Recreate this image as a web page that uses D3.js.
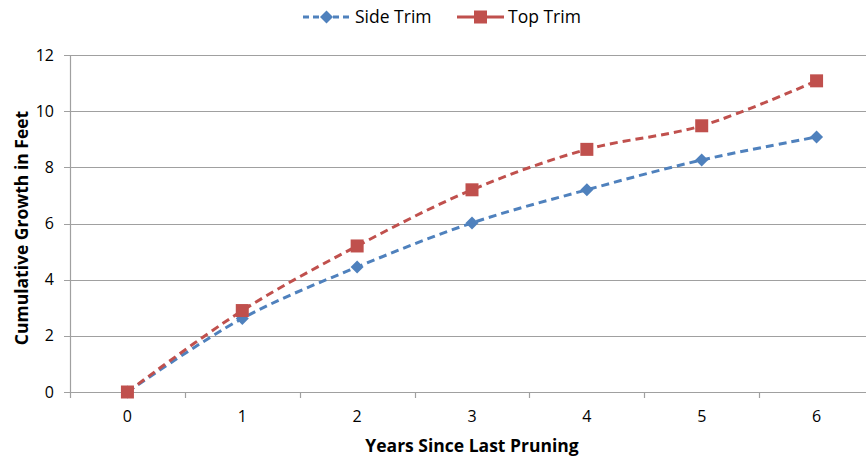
<!DOCTYPE html>
<html>
<head>
    <meta charset="utf-8">
    <title>Cumulative Growth Since Last Pruning</title>
    <style>
        body {
            margin: 0;
            background: white;
            font-family: "Open Sans", "Liberation Sans", sans-serif;
        }
        svg text { fill: #000; }
    </style>
</head>
<body>
    <div id="chart"></div>

    <script src="https://d3js.org/d3.v7.min.js"></script>
    <script>
    // Chart data
    const years = [0, 1, 2, 3, 4, 5, 6];
    const sideTrim = [0, 2.62, 4.45, 6.02, 7.2, 8.26, 9.08];
    const topTrim = [0, 2.9, 5.2, 7.2, 8.64, 9.48, 11.08];
    const yTicks = [0, 2, 4, 6, 8, 10, 12];

    const seriesList = [
        {name: "Side Trim", values: sideTrim, color: "#4F81BD", marker: "diamond"},
        {name: "Top Trim", values: topTrim, color: "#C0504D", marker: "square"}
    ];

    const width = 866, height = 459;
    // plot area (right edge runs past the visible window like the original)
    const plot = {left: 70, top: 55, right: 874, bottom: 392};

    const svg = d3.select("#chart").append("svg")
        .attr("width", width)
        .attr("height", height);

    // Category axis: values sit in the middle of each band
    const x = d3.scaleBand()
        .domain(years)
        .range([plot.left, plot.right]);

    const y = d3.scaleLinear()
        .domain([0, 12])
        .range([plot.bottom, plot.top]);

    // Horizontal gridlines
    svg.append("g")
        .selectAll("line")
        .data(yTicks)
        .join("line")
        .attr("x1", plot.left - 6)
        .attr("x2", plot.right)
        .attr("y1", d => Math.round(y(d)) + 0.5)
        .attr("y2", d => Math.round(y(d)) + 0.5)
        .attr("stroke", "#a0a0a0")
        .attr("stroke-width", 1.2);

    // Y axis line
    svg.append("line")
        .attr("x1", plot.left + 0.5).attr("x2", plot.left + 0.5)
        .attr("y1", plot.top).attr("y2", plot.bottom)
        .attr("stroke", "#a0a0a0")
        .attr("stroke-width", 1.2);

    // Y tick labels
    svg.append("g")
        .selectAll("text")
        .data(yTicks)
        .join("text")
        .attr("x", 54)
        .attr("y", d => y(d))
        .attr("dy", "0.35em")
        .attr("text-anchor", "end")
        .style("font-size", "16px")
        .text(d => d);

    // X tick marks between categories
    const bandEdges = years.map(d => x(d)).concat([plot.right]);
    svg.append("g")
        .selectAll("line")
        .data(bandEdges)
        .join("line")
        .attr("x1", d => Math.round(d) + 0.5)
        .attr("x2", d => Math.round(d) + 0.5)
        .attr("y1", plot.bottom)
        .attr("y2", plot.bottom + 6)
        .attr("stroke", "#a0a0a0")
        .attr("stroke-width", 1.2);

    // X tick labels
    svg.append("g")
        .selectAll("text")
        .data(years)
        .join("text")
        .attr("x", d => x(d) + x.bandwidth() / 2)
        .attr("y", 422)
        .attr("text-anchor", "middle")
        .style("font-size", "16px")
        .text(d => d);

    // Axis titles
    svg.append("text")
        .attr("x", 472)
        .attr("y", 452)
        .attr("text-anchor", "middle")
        .style("font-size", "17.5px")
        .style("font-weight", "bold")
        .text("Years Since Last Pruning");

    svg.append("text")
        .attr("transform", "translate(28,228) rotate(-90)")
        .attr("text-anchor", "middle")
        .style("font-size", "17.5px")
        .style("font-weight", "bold")
        .text("Cumulative Growth in Feet");

    // Smoothed dashed lines
    const line = d3.line()
        .x((d, i) => x(years[i]) + x.bandwidth() / 2)
        .y(d => y(d))
        .curve(d3.curveCatmullRom.alpha(0.5));

    const diamond = s => `M0,${-s}L${s},0L0,${s}L${-s},0Z`;

    function drawMarker(g, type, color) {
        if (type === "square") {
            g.append("rect")
                .attr("x", -6.5).attr("y", -6.5)
                .attr("width", 13).attr("height", 13)
                .attr("fill", color);
        } else {
            g.append("path")
                .attr("d", diamond(6.5))
                .attr("fill", color);
        }
    }

    seriesList.forEach(s => {
        svg.append("path")
            .datum(s.values)
            .attr("d", line)
            .attr("fill", "none")
            .attr("stroke", s.color)
            .attr("stroke-width", 3)
            .attr("stroke-dasharray", "8 5");
    });

    seriesList.forEach(s => {
        s.values.forEach((v, i) => {
            const g = svg.append("g")
                .attr("transform", `translate(${x(years[i]) + x.bandwidth() / 2},${y(v)})`);
            drawMarker(g, s.marker, s.color);
        });
    });

    // Legend
    const legendPos = [
        {lx: 303, tx: 355},
        {lx: 457, tx: 508}
    ];
    seriesList.forEach((s, i) => {
        const p = legendPos[i];
        const g = svg.append("g");
        g.append("line")
            .attr("x1", p.lx).attr("x2", p.lx + 47)
            .attr("y1", 17).attr("y2", 17)
            .attr("stroke", s.color)
            .attr("stroke-width", 3)
            .attr("stroke-dasharray", i === 0 ? "6 4" : null);
        const m = g.append("g").attr("transform", `translate(${p.lx + 23.5},17)`);
        drawMarker(m, s.marker, s.color);
        g.append("text")
            .attr("x", p.tx)
            .attr("y", 17)
            .attr("dy", "0.35em")
            .style("font-size", "17.5px")
            .text(s.name);
    });
    </script>
</body>
</html>
